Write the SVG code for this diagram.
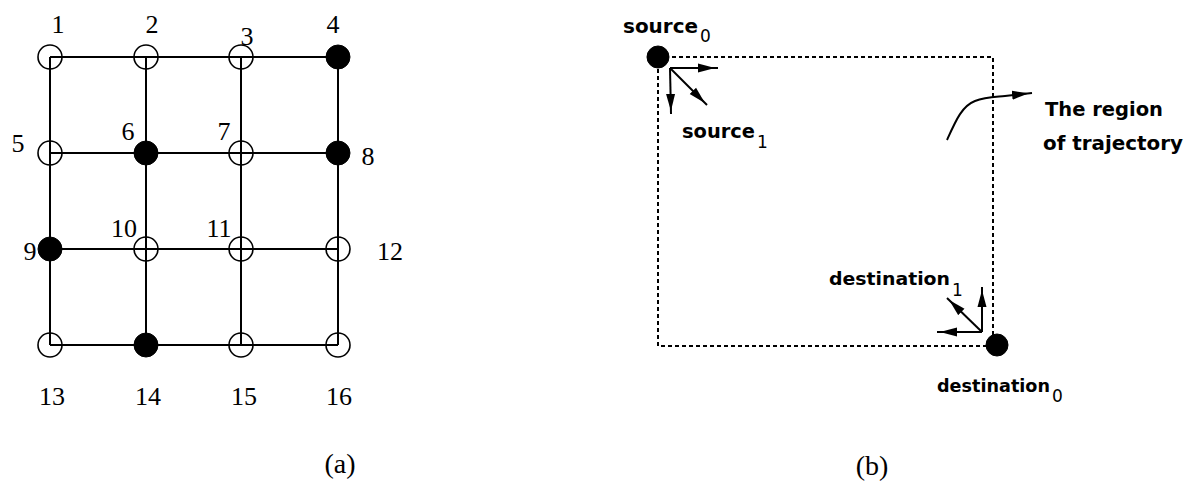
<svg xmlns="http://www.w3.org/2000/svg" width="1194" height="483" viewBox="0 0 1194 483">
  <style>
    .edge { stroke: #000; stroke-width: 2; fill: none; }
    .open { fill: none; stroke: #000; stroke-width: 1.6; }
    .full { fill: #000; stroke: #000; stroke-width: 1; }
    .num { font-family: "Liberation Serif", serif; font-size: 26px; fill: #000; text-anchor: middle; }
    .lbl { font-family: "DejaVu Sans", "Liberation Sans", sans-serif; font-size: 20px; font-weight: 600; fill: #000; }
    .sub { font-size: 17px; font-weight: normal; }
    .cap { font-family: "Liberation Serif", serif; font-size: 28px; fill: #000; text-anchor: middle; }
    .frame { stroke: #000; stroke-width: 2; stroke-dasharray: 4 3; fill: none; }
    .arr { stroke: #000; stroke-width: 2; fill: none; marker-end: url(#head); }
  </style>
  <defs>
    <!-- arrowhead sits a little behind the line end -->
    <marker id="head" viewBox="0 0 22 10" refX="20" refY="5" markerWidth="22" markerHeight="10" markerUnits="userSpaceOnUse" orient="auto">
      <path d="M0,0.5 L17,5 L0,9.5 z" fill="#000"/>
    </marker>
  </defs>

  <!-- (a) 4x4 grid -->
  <g id="grid-edges">
    <line class="edge" x1="50" y1="57" x2="338" y2="57"/>
    <line class="edge" x1="50" y1="153" x2="338" y2="153"/>
    <line class="edge" x1="50" y1="249" x2="338" y2="249"/>
    <line class="edge" x1="50" y1="345" x2="338" y2="345"/>
    <line class="edge" x1="50" y1="57" x2="50" y2="345"/>
    <line class="edge" x1="146" y1="57" x2="146" y2="345"/>
    <line class="edge" x1="241" y1="57" x2="241" y2="345"/>
    <line class="edge" x1="338" y1="57" x2="338" y2="345"/>
  </g>

  <g id="n1"><circle class="open" cx="50" cy="57" r="12"/><text class="num" x="58" y="33">1</text></g>
  <g id="n2"><circle class="open" cx="146" cy="57" r="12"/><text class="num" x="152" y="33">2</text></g>
  <g id="n3"><circle class="open" cx="241" cy="57" r="12"/><text class="num" x="247" y="45">3</text></g>
  <g id="n4"><circle class="full" cx="338" cy="57" r="12"/><text class="num" x="333" y="33">4</text></g>
  <g id="n5"><circle class="open" cx="50" cy="153" r="12"/><text class="num" x="18" y="152">5</text></g>
  <g id="n6"><circle class="full" cx="146" cy="153" r="12"/><text class="num" x="128" y="140">6</text></g>
  <g id="n7"><circle class="open" cx="241" cy="153" r="12"/><text class="num" x="224" y="140">7</text></g>
  <g id="n8"><circle class="full" cx="338" cy="153" r="12"/><text class="num" x="368" y="165">8</text></g>
  <g id="n9"><circle class="full" cx="50" cy="249" r="12"/><text class="num" x="30" y="260">9</text></g>
  <g id="n10"><circle class="open" cx="146" cy="249" r="12"/><text class="num" x="124" y="237">10</text></g>
  <g id="n11"><circle class="open" cx="241" cy="249" r="12"/><text class="num" x="219" y="237">11</text></g>
  <g id="n12"><circle class="open" cx="338" cy="249" r="12"/><text class="num" x="390" y="260">12</text></g>
  <g id="n13"><circle class="open" cx="50" cy="345" r="12"/><text class="num" x="52" y="405">13</text></g>
  <g id="n14"><circle class="full" cx="146" cy="345" r="12"/><text class="num" x="148" y="405">14</text></g>
  <g id="n15"><circle class="open" cx="241" cy="345" r="12"/><text class="num" x="244" y="405">15</text></g>
  <g id="n16"><circle class="open" cx="338" cy="345" r="12"/><text class="num" x="339" y="405">16</text></g>

  <text class="cap" x="340" y="473">(a)</text>

  <!-- (b) trajectory region -->
  <g id="region">
    <rect class="frame" x="658" y="57" width="335" height="289"/>
  </g>

  <g id="source">
    <circle class="full" cx="658" cy="57" r="11"/>
    <text class="lbl" x="623" y="33"><tspan textLength="75" lengthAdjust="spacingAndGlyphs">source</tspan><tspan class="sub" x="700" dy="9">0</tspan></text>
  </g>

  <g id="destination">
    <circle class="full" cx="997" cy="345" r="11"/>
    <text class="lbl" x="937" y="392" style="font-size:17.5px"><tspan textLength="113" lengthAdjust="spacingAndGlyphs">destination</tspan><tspan class="sub" x="1052" dy="10">0</tspan></text>
  </g>

  <g id="source1-label">
    <text class="lbl" x="682" y="138" style="font-size:19.5px"><tspan textLength="73" lengthAdjust="spacingAndGlyphs">source</tspan><tspan class="sub" x="757" dy="10">1</tspan></text>
  </g>

  <g id="destination1-label">
    <text class="lbl" x="829" y="285" style="font-size:18.5px"><tspan textLength="121" lengthAdjust="spacingAndGlyphs">destination</tspan><tspan class="sub" x="952" dy="11">1</tspan></text>
  </g>

  <g id="region-label">
    <text class="lbl" x="1045" y="116" textLength="118" lengthAdjust="spacingAndGlyphs">The region</text>
    <text class="lbl" x="1043" y="150" textLength="140" lengthAdjust="spacingAndGlyphs">of trajectory</text>
  </g>

  <g id="connectors">
    <!-- first moves out of the source -->
    <line class="arr" x1="670" y1="68" x2="718" y2="68"/>
    <line class="arr" x1="670" y1="68" x2="671" y2="114"/>
    <line class="arr" x1="670" y1="68" x2="707" y2="105"/>
    <!-- last moves into the destination -->
    <line class="arr" x1="982" y1="332" x2="937" y2="332"/>
    <line class="arr" x1="982" y1="332" x2="982" y2="287"/>
    <line class="arr" x1="982" y1="332" x2="947" y2="298"/>
    <!-- pointer to the region label -->
    <path class="arr" d="M947,140 C956,120 962,106 975,101 C985,97 995,97 1005,96 L1032,93"/>
  </g>

  <text class="cap" x="872" y="475">(b)</text>
</svg>
